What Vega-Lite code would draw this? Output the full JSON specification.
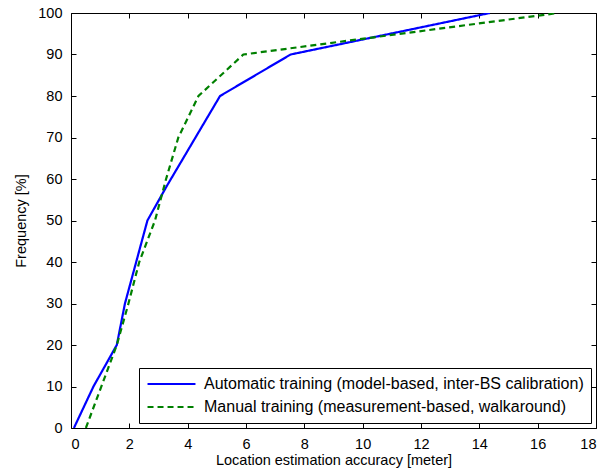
{
  "$schema": "https://vega.github.io/schema/vega-lite/v6.json",
  "width": 525,
  "height": 415,
  "autosize": {"type": "none"},
  "padding": {"left": 71, "top": 13, "right": 11, "bottom": 48},
  "background": "white",
  "config": {
    "view": {"stroke": "black", "strokeWidth": 1},
    "font": "Liberation Sans",
    "axis": {"labelFont": "Liberation Sans", "titleFont": "Liberation Sans", "labelFontSize": 14.5, "titleFontSize": 14.5, "titleFontWeight": "normal", "labelColor": "black", "titleColor": "black", "domain": false, "tickColor": "black", "tickWidth": 1, "grid": false, "tickSize": 5, "offset": -5, "labelPadding": 9, "labelOverlap": false}
  },
  "data": {"values": [
    {"x": 0.1, "y": 0, "s": "Automatic training (model-based, inter-BS calibration)"},
    {"x": 0.77, "y": 10, "s": "Automatic training (model-based, inter-BS calibration)"},
    {"x": 1.57, "y": 20, "s": "Automatic training (model-based, inter-BS calibration)"},
    {"x": 1.85, "y": 30, "s": "Automatic training (model-based, inter-BS calibration)"},
    {"x": 2.62, "y": 50, "s": "Automatic training (model-based, inter-BS calibration)"},
    {"x": 3.3, "y": 58.5, "s": "Automatic training (model-based, inter-BS calibration)"},
    {"x": 5.11, "y": 80, "s": "Automatic training (model-based, inter-BS calibration)"},
    {"x": 7.53, "y": 90, "s": "Automatic training (model-based, inter-BS calibration)"},
    {"x": 14.36, "y": 100, "s": "Automatic training (model-based, inter-BS calibration)"},
    {"x": 0.51, "y": 0, "s": "Manual training (measurement-based, walkaround)"},
    {"x": 1.57, "y": 20, "s": "Manual training (measurement-based, walkaround)"},
    {"x": 1.97, "y": 30, "s": "Manual training (measurement-based, walkaround)"},
    {"x": 2.34, "y": 40, "s": "Manual training (measurement-based, walkaround)"},
    {"x": 2.88, "y": 50, "s": "Manual training (measurement-based, walkaround)"},
    {"x": 3.26, "y": 60, "s": "Manual training (measurement-based, walkaround)"},
    {"x": 3.68, "y": 70, "s": "Manual training (measurement-based, walkaround)"},
    {"x": 4.37, "y": 80, "s": "Manual training (measurement-based, walkaround)"},
    {"x": 5.91, "y": 90, "s": "Manual training (measurement-based, walkaround)"},
    {"x": 16.7, "y": 100, "s": "Manual training (measurement-based, walkaround)"}
  ]},
  "layer": [
    {
      "mark": {"type": "line", "strokeWidth": 2.2, "clip": true},
      "encoding": {
        "x": {"field": "x", "type": "quantitative", "scale": {"domain": [0, 18], "nice": false}, "axis": {"title": "Location estimation accuracy [meter]", "values": [0,2,4,6,8,10,12,14,16,18], "titlePadding": 3}},
        "y": {"field": "y", "type": "quantitative", "scale": {"domain": [0, 100], "nice": false}, "axis": {"title": "Frequency [%]", "values": [0,10,20,30,40,50,60,70,80,90,100], "titlePadding": 9}},
        "color": {"field": "s", "type": "nominal", "scale": {"domain": ["Automatic training (model-based, inter-BS calibration)", "Manual training (measurement-based, walkaround)"], "range": ["#0000FF", "#008000"]},
          "legend": {"title": null, "orient": "bottom-right", "offset": 5, "fillColor": "white", "strokeColor": "black", "padding": 7, "labelFontSize": 16, "labelFont": "Liberation Sans", "labelColor": "black", "symbolType": "stroke", "symbolSize": 2300, "symbolStrokeWidth": 2.2, "rowPadding": 5, "labelOffset": 7, "labelLimit": 500, "clipHeight": 18, "symbolDash": {"expr": "datum.label == 'Manual training (measurement-based, walkaround)' ? [6,4] : []"}}},
        "strokeDash": {"field": "s", "type": "nominal", "scale": {"domain": ["Automatic training (model-based, inter-BS calibration)", "Manual training (measurement-based, walkaround)"], "range": [[1, 0], [6, 4]]}, "legend": null}
      }
    },
    {
      "mark": {"type": "rule", "opacity": 0},
      "encoding": {
        "x": {"field": "x", "type": "quantitative", "scale": {"domain": [0, 18], "nice": false}, "axis": {"orient": "top", "labels": false, "title": null, "values": [0,2,4,6,8,10,12,14,16,18]}},
        "y": {"field": "y", "type": "quantitative", "scale": {"domain": [0, 100], "nice": false}, "axis": {"orient": "right", "labels": false, "title": null, "values": [0,10,20,30,40,50,60,70,80,90,100]}}
      }
    }
  ],
  "resolve": {"axis": {"x": "independent", "y": "independent"}}
}
